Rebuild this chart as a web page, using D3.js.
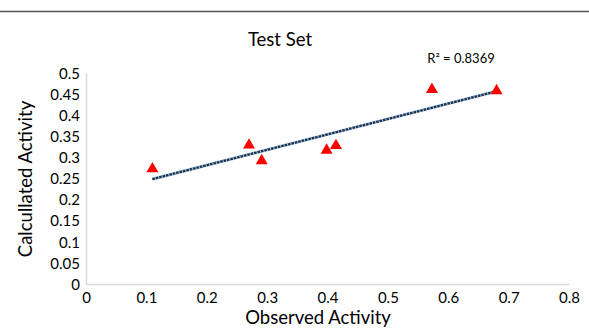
<!DOCTYPE html>
<html>
<head>
<meta charset="utf-8">
<script src="https://cdn.jsdelivr.net/npm/d3@7"></script>
<style>
  body { margin: 0; background: #fff; }
  text { font-family: Lato, "Open Sans", sans-serif; fill: #000; }
</style>
</head>
<body>
<div id="chart"></div>
<script>
var width  = 589;
var height = 329;

// data
var observed   = [0.11, 0.27, 0.291, 0.3985, 0.414, 0.573, 0.68];
var calculated = [0.273, 0.329, 0.292, 0.317, 0.328, 0.461, 0.458];
var xTicks = [0, 0.1, 0.2, 0.3, 0.4, 0.5, 0.6, 0.7, 0.8];
var yTicks = [0, 0.05, 0.1, 0.15, 0.2, 0.25, 0.3, 0.35, 0.4, 0.45, 0.5];
var rSquaredLabel = "R² = 0.8369";

var margin = {left: 86, right: 20, top: 73, bottom: 45};

var svg = d3.select("#chart").append("svg")
    .attr("width", width)
    .attr("height", height);

// thin rule across the top
svg.append("line")
   .attr("x1", 0).attr("x2", width)
   .attr("y1", 11.5).attr("y2", 11.5)
   .attr("stroke", "#555").attr("stroke-width", 1.3);

var x = d3.scaleLinear().domain([0, 0.8]).range([margin.left, 569]);
var y = d3.scaleLinear().domain([0, 0.5]).range([284, margin.top]);

var fmt = function(d) { return d === 0 ? "0" : String(d); };

var xAxis = svg.append("g")
    .attr("transform", "translate(0," + y(0) + ")")
    .call(d3.axisBottom(x).tickValues(xTicks).tickSize(0).tickPadding(5).tickFormat(fmt));

var yAxis = svg.append("g")
    .attr("transform", "translate(" + x(0) + ",0)")
    .call(d3.axisLeft(y).tickValues(yTicks).tickSize(0).tickPadding(6).tickFormat(fmt));

[xAxis, yAxis].forEach(function(g) {
  g.select(".domain").attr("stroke", "#d9d9d9").attr("stroke-width", 1.5);
  g.selectAll("text")
   .style("font-family", "Lato, 'Open Sans', sans-serif")
   .style("font-size", "15px")
   .attr("fill", "#000");
});
xAxis.selectAll("text").attr("dy", "0.95em");
yAxis.selectAll("text").attr("dy", "0.35em");

// linear trend line from least squares
var points = observed.map(function(d, i) { return [d, calculated[i]]; });
var mx = d3.mean(observed), my = d3.mean(calculated);
var sxy = d3.sum(points, function(p) { return (p[0] - mx) * (p[1] - my); });
var sxx = d3.sum(points, function(p) { return (p[0] - mx) * (p[0] - mx); });
var slope = sxy / sxx, intercept = my - slope * mx;
var xExt = d3.extent(observed);
var trend = xExt.map(function(d) { return [d, intercept + slope * d]; });

var line = d3.line()
    .x(function(d) { return x(d[0]); })
    .y(function(d) { return y(d[1]); });

svg.append("path").datum(trend)
   .attr("d", line)
   .attr("stroke", "#9fc0e0").attr("stroke-width", 3.2).attr("fill", "none");
svg.append("path").datum(trend)
   .attr("d", line)
   .attr("stroke", "#1e2f45").attr("stroke-width", 2.2)
   .attr("stroke-dasharray", "2.5,1").attr("fill", "none");

// triangle markers
var tri = d3.symbol().type(d3.symbolTriangle).size(62);
svg.selectAll(".pt")
   .data(points)
   .enter()
   .append("path")
   .attr("class", "pt")
   .attr("d", tri)
   .attr("fill", "#ff0000")
   .attr("transform", function(d) { return "translate(" + x(d[0]) + "," + y(d[1]) + ")"; });

// texts
svg.append("text")
   .attr("x", 280).attr("y", 46)
   .attr("text-anchor", "middle")
   .style("font-size", "18.5px")
   .text("Test Set");

svg.append("text")
   .attr("x", 461).attr("y", 63)
   .attr("text-anchor", "middle")
   .style("font-size", "13px")
   .text(rSquaredLabel);

svg.append("text")
   .attr("transform", "translate(32," + 179 + ") rotate(-90)")
   .attr("text-anchor", "middle")
   .style("font-size", "18.5px")
   .text("Calcullated Activity");

svg.append("text")
   .attr("x", 318).attr("y", 324)
   .attr("text-anchor", "middle")
   .style("font-size", "18.5px")
   .text("Observed Activity");
</script>
</body>
</html>
